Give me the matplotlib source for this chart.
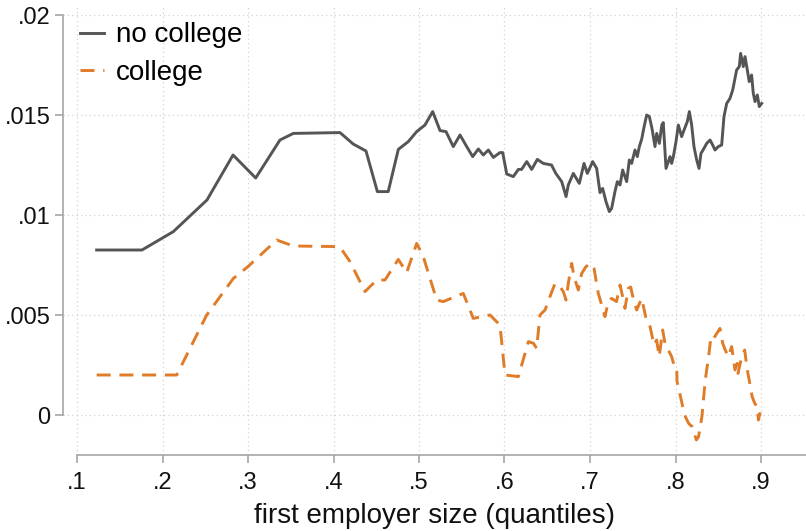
import matplotlib
matplotlib.use("Agg")
import matplotlib.pyplot as plt

plt.rcParams['font.family'] = ['Liberation Sans', 'DejaVu Sans']

# Employer-size quantile grid and outcome, workers without college
nocol_x = [0.123, 0.176, 0.2127, 0.252, 0.2825, 0.309, 0.3374, 0.353, 0.4076, 0.423,
           0.438, 0.4513, 0.464, 0.4758, 0.4875, 0.4973, 0.507, 0.516, 0.5246, 0.5316,
           0.5401, 0.548, 0.5558, 0.5628, 0.5694, 0.5752, 0.5811, 0.587, 0.5947, 0.5979,
           0.6026, 0.6103, 0.6162, 0.62, 0.626, 0.6318, 0.6384, 0.6453, 0.655, 0.660,
           0.6669, 0.672, 0.6746, 0.6805, 0.6875, 0.693, 0.6969, 0.7031, 0.7078, 0.7117,
           0.7148, 0.7187, 0.7226, 0.7253, 0.7292, 0.732, 0.7351, 0.7382, 0.7429, 0.746,
           0.7487, 0.7526, 0.7553, 0.7577, 0.7605, 0.7632, 0.7663, 0.7694, 0.7725, 0.776,
           0.778, 0.7811, 0.784, 0.7857, 0.7889, 0.7936, 0.7955, 0.7975, 0.8006, 0.8033,
           0.8072, 0.81, 0.8138, 0.8162, 0.8189, 0.8216, 0.8248, 0.8275, 0.8298, 0.8333,
           0.8365, 0.8404, 0.8435, 0.8462, 0.85, 0.854, 0.8567, 0.8599, 0.8637, 0.8669,
           0.8715, 0.8746, 0.8762, 0.8793, 0.8813, 0.884, 0.8862, 0.889, 0.891, 0.893,
           0.8957, 0.898, 0.9008]
nocol_y = [0.00825, 0.00825, 0.00917, 0.01075, 0.0130, 0.01185, 0.01375, 0.01408, 0.01412, 0.01355,
           0.0132, 0.01117, 0.01117, 0.01328, 0.01367, 0.01417, 0.0145, 0.01517, 0.01422, 0.01417,
           0.01342, 0.0140, 0.01342, 0.01292, 0.0133, 0.0130, 0.01325, 0.01288, 0.01312, 0.01312,
           0.01205, 0.01192, 0.01228, 0.01228, 0.01267, 0.01228, 0.01278, 0.01258, 0.0125, 0.01208,
           0.01167, 0.01092, 0.0115, 0.01208, 0.01158, 0.01258, 0.01208, 0.01267, 0.01233, 0.01112,
           0.01133, 0.01067, 0.01017, 0.01033, 0.01117, 0.01167, 0.0115, 0.01225, 0.01167, 0.01275,
           0.01258, 0.01325, 0.01292, 0.01342, 0.0138, 0.0144, 0.0150, 0.01492, 0.01433, 0.01342,
           0.01408, 0.01358, 0.0145, 0.01462, 0.01233, 0.01292, 0.01258, 0.01292, 0.01367, 0.0145,
           0.01392, 0.01425, 0.01467, 0.01517, 0.0145, 0.01342, 0.01275, 0.01233, 0.01308, 0.01333,
           0.01358, 0.01375, 0.0135, 0.01325, 0.01342, 0.0135, 0.01492, 0.01558, 0.01583, 0.01625,
           0.01725, 0.01742, 0.01808, 0.01742, 0.01792, 0.01725, 0.01667, 0.0170, 0.01608, 0.01567,
           0.0160, 0.01542, 0.01558]

# Same outcome, college-educated workers
col_x = [0.123, 0.2166, 0.2517, 0.2829, 0.300, 0.3335, 0.353, 0.4056, 0.410, 0.4193,
         0.4368, 0.4505, 0.4602, 0.4758, 0.4856, 0.4973, 0.505, 0.5207, 0.5284, 0.5518,
         0.5635, 0.583, 0.5947, 0.6006, 0.6162, 0.628, 0.634, 0.6376, 0.6415, 0.6474,
         0.6532, 0.6591, 0.6649, 0.6688, 0.672, 0.6746, 0.6786, 0.6813, 0.6863, 0.6903,
         0.6953, 0.7008, 0.7047, 0.7097, 0.7137, 0.7175, 0.7214, 0.7253, 0.731, 0.7351,
         0.7382, 0.7409, 0.7448, 0.7475, 0.7506, 0.7546, 0.7604, 0.763, 0.7663, 0.7702,
         0.7749, 0.7779, 0.781, 0.785, 0.7877, 0.7916, 0.7955, 0.7982, 0.8014, 0.8018,
         0.805, 0.8076, 0.8115, 0.8154, 0.8193, 0.8244, 0.827, 0.8309, 0.8348, 0.8387,
         0.8415, 0.8446, 0.852, 0.8552, 0.8582, 0.8617, 0.8657, 0.8696, 0.8723, 0.8731,
         0.877, 0.8809, 0.884, 0.8869, 0.8896, 0.8927, 0.8957, 0.897, 0.9008]
col_y = [0.0020, 0.0020, 0.0050, 0.00683, 0.00742, 0.00875, 0.00845, 0.00842, 0.00825, 0.00767,
         0.00617, 0.00675, 0.00675, 0.00778, 0.00712, 0.00858, 0.00792, 0.00575, 0.00567, 0.00608,
         0.00483, 0.0050, 0.0045, 0.0020, 0.00192, 0.00367, 0.00358, 0.00333, 0.0050, 0.00525,
         0.00592, 0.00658, 0.00642, 0.00617, 0.00575, 0.00658, 0.00758, 0.00692, 0.00625, 0.00708,
         0.00742, 0.00758, 0.00733, 0.00608, 0.0055, 0.00492, 0.00567, 0.00583, 0.00567, 0.0065,
         0.00592, 0.00533, 0.00633, 0.0064, 0.00583, 0.00525, 0.00583, 0.00533, 0.00467, 0.00442,
         0.0035, 0.00375, 0.00292, 0.00425, 0.00358, 0.00325, 0.00292, 0.0025, 0.00242, 0.00167,
         0.00108, 0.00058, -0.00008, -0.00042, -0.00058, -0.00125, -0.00108, -0.00008, 0.00175, 0.00292,
         0.00392, 0.00383, 0.00433, 0.00358, 0.00325, 0.00292, 0.00342, 0.00225, 0.00258, 0.00208,
         0.00283, 0.00325, 0.00225, 0.00158, 0.00092, 0.00058, 0.00042, -0.00025, 0.0005]

xticks = [0.1, 0.2, 0.3, 0.4, 0.5, 0.6, 0.7, 0.8, 0.9]
xticklabels = ['.1', '.2', '.3', '.4', '.5', '.6', '.7', '.8', '.9']
yticks = [0.0, 0.005, 0.01, 0.015, 0.02]
yticklabels = ['0', '.005', '.01', '.015', '.02']

W, H = 806, 531
fig = plt.figure(figsize=(W / 100, H / 100), dpi=100)
left, right, top, bottom = 63, 806, 5, 455
ax = fig.add_axes([left / W, (H - bottom) / H, (right - left) / W, (bottom - top) / H])

gray_line = '#555555'
orange = '#E07B28'
axis_col = '#a6a6a6'

ax.plot(nocol_x, nocol_y, color=gray_line, lw=2.1, label='no college', zorder=3,
        solid_joinstyle='round')
ax.plot(col_x, col_y, color=orange, lw=2.1, linestyle=(0, (4.8, 3.0)), label='college',
        zorder=3)

x0 = 0.1 - (77 - left) / 855.0
x1 = 0.9 + (right - 761) / 855.0
ax.set_xlim(x0, x1)
ax.set_ylim(-(bottom - 415) / 20000.0, 0.02 + (15 - top) / 20000.0)

ax.set_xticks(xticks)
ax.set_xticklabels(xticklabels)
ax.set_yticks(yticks)
ax.set_yticklabels(yticklabels)

ax.grid(True, color='#d2d2d2', linestyle=(0, (1, 2.5)), linewidth=0.9, zorder=0)

for s in ('top', 'right'):
    ax.spines[s].set_visible(False)
ax.spines['left'].set_bounds(0.0, 0.02)
ax.spines['bottom'].set_bounds(0.1, x1)
for s in ('left', 'bottom'):
    ax.spines[s].set_color(axis_col)
    ax.spines[s].set_linewidth(1.2)

ax.tick_params(axis='both', colors=axis_col, length=6, width=1.2, labelcolor='#111111',
               labelsize=17)
ax.tick_params(axis='y', pad=3)
ax.tick_params(axis='x', pad=6)

ax.set_xlabel('first employer size (quantiles)', fontsize=20, color='#111111', labelpad=7)

leg = ax.legend(loc='upper left', bbox_to_anchor=(0.0, 1.0), frameon=False, fontsize=20,
                handlelength=0.85, handletextpad=0.42, labelspacing=0.42,
                borderaxespad=0.32, borderpad=0.3)

fig.savefig('out.png', dpi=100, facecolor='white')
